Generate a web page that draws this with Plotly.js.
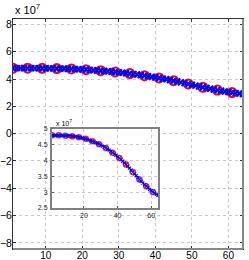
<!DOCTYPE html>
<html><head><meta charset="utf-8">
<script src="https://cdn.plot.ly/plotly-3.0.1.min.js"></script>
<style>html,body{margin:0;padding:0;background:#fff}#c{width:249px;height:260px}</style>
</head><body><div id="c"></div>
<script>
// values in units of 1e7
const xAll = [];
for (let i = 1; i <= 64; i++) xAll.push(i);
const yAll = [4.80,4.80,4.80,4.80,4.80,4.80,4.80,4.79,4.79,4.79,4.78,4.78,4.77,4.77,4.76,4.75,
              4.74,4.73,4.72,4.70,4.69,4.67,4.65,4.63,4.61,4.59,4.57,4.54,4.52,4.49,4.46,4.43,
              4.40,4.36,4.33,4.29,4.25,4.21,4.17,4.12,4.08,4.03,3.98,3.93,3.88,3.82,3.76,3.70,
              3.64,3.58,3.52,3.46,3.40,3.34,3.29,3.24,3.19,3.14,3.09,3.05,3.01,2.97,2.93,2.90];
const xSamp = [1,5,9,13,17,21,25,29,33,37,41,45,49,53,57,61];
const ySamp = [4.80,4.80,4.79,4.77,4.74,4.69,4.61,4.52,4.40,4.25,4.08,3.88,3.64,3.40,3.19,3.01];
const mainYTicks = [-8,-6,-4,-2,0,2,4,6,8];
const mainXTicks = [10,20,30,40,50,60];
const insetYTicks = [2.5,3,3.5,4,4.5,5];
const insetXTicks = [20,40,60];

const traces = [
  {x: xSamp, y: ySamp, xaxis:'x', yaxis:'y', mode:'markers', type:'scatter',
   marker:{symbol:'circle-open', size:9, color:'#ff0000', line:{width:2, color:'#ff0000'}}},
  {x: xAll, y: yAll, xaxis:'x', yaxis:'y', mode:'markers', type:'scatter',
   marker:{symbol:'x-thin-open', size:6, color:'#0000ff', line:{width:2, color:'#0000ff'}}},
  {x: xSamp, y: ySamp, xaxis:'x2', yaxis:'y2', mode:'markers', type:'scatter',
   marker:{symbol:'circle-open', size:5, color:'#ff2020', line:{width:1.5, color:'#ff2020'}}},
  {x: xAll, y: yAll, xaxis:'x2', yaxis:'y2', mode:'markers', type:'scatter',
   marker:{symbol:'x-thin-open', size:3, color:'#0000ff', line:{width:1.2, color:'#0000ff'}}}
];

const gridCommon = {showgrid:true, gridcolor:'#c8c8c8', griddash:'dot', gridwidth:1, zeroline:false};
const layout = {
  width:249, height:260, showlegend:false,
  paper_bgcolor:'#fff', plot_bgcolor:'#fff',
  margin:{l:13, r:6, t:19, b:11},
  font:{family:'Liberation Sans, Arial, sans-serif', color:'#000'},
  xaxis: Object.assign({domain:[0,1], range:[1,64], tickvals:mainXTicks, ticks:'inside', ticklen:3,
    tickcolor:'#333', showline:true, linecolor:'#333', linewidth:1, mirror:'ticks',
    tickfont:{size:10}, anchor:'y', ticklabelstandoff:-3}, gridCommon),
  yaxis: Object.assign({domain:[0,1], range:[-8.45,8.4], tickvals:mainYTicks, ticks:'inside', ticklen:3,
    tickcolor:'#333', showline:true, linecolor:'#333', linewidth:1, mirror:'ticks',
    tickfont:{size:10.5}, anchor:'x', ticklabelstandoff:-2}, gridCommon),
  xaxis2: Object.assign({domain:[0.1696,0.6304], range:[1,64], tickvals:insetXTicks, ticks:'inside', ticklen:2,
    tickcolor:'#555', showline:true, linecolor:'#808080', linewidth:2, mirror:true,
    tickfont:{size:7, color:'#222'}, anchor:'y2', ticklabelstandoff:0}, gridCommon),
  yaxis2: Object.assign({domain:[0.1783,0.5217], range:[2.5,5], tickvals:insetYTicks, ticks:'inside', ticklen:2,
    tickcolor:'#555', showline:true, linecolor:'#808080', linewidth:2, mirror:true,
    tickfont:{size:7, color:'#222'}, anchor:'x2', ticklabelstandoff:1}, gridCommon),
  shapes:[
    {type:'line', xref:'paper', yref:'paper', x0:0, x1:1, y0:0, y1:0, line:{color:'#888', width:2}},
    {type:'line', xref:'paper', yref:'paper', x0:1, x1:1, y0:0, y1:1, line:{color:'#888', width:2}}
  ],
  annotations:[
    {xref:'paper', yref:'paper', x:0, y:1, xanchor:'left', yanchor:'bottom', yshift:1, showarrow:false,
     text:'x 10<sup>7</sup>', font:{size:11}},
    {xref:'paper', yref:'paper', x:0.1696, y:0.5217, xanchor:'left', yanchor:'bottom', xshift:2, yshift:0, showarrow:false,
     text:'x 10<sup>7</sup>', font:{size:7}}
  ]
};
Plotly.newPlot('c', traces, layout, {staticPlot:true, displayModeBar:false});
</script></body></html>
